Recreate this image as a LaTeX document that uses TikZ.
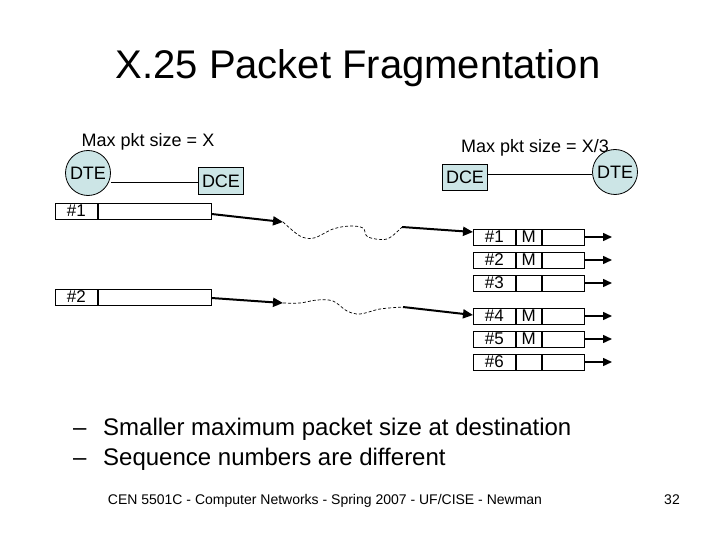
\documentclass[tikz,border=0pt]{standalone}
\usepackage{fontspec}
\setmainfont{Liberation Sans}
\usetikzlibrary{arrows.meta}
\definecolor{devfill}{RGB}{204,229,230}
\tikzset{
  fs/.style={font=\fontsize{#1}{#1}\selectfont},
  dev/.style={draw, fill=devfill, line width=0.8pt, inner sep=0pt, fs=18},
  cell/.style={draw, fill=white, line width=0.8pt, minimum height=16pt, inner sep=0pt, anchor=west, fs=17},
  link/.style={line width=0.8pt},
  bigarrow/.style={line width=2pt, -{Triangle[length=10pt,width=9pt]}},
  outarrow/.style={line width=1.5pt, -{Triangle[length=9pt,width=8pt]}},
  wave/.style={dash pattern=on 3pt off 2pt, line width=0.7pt},
  txt/.style={anchor=base, inner sep=0pt}
}
\begin{document}
\begin{tikzpicture}[x=1pt, y=-1pt]
\useasboundingbox (0,0) rectangle (720,540);
% title
\node[txt, fs=40] (title) at (358,79) {X.25 Packet Fragmentation};
% devices left
\node[txt, fs=18] (mx1) at (148,147) {Max pkt size = X};
\node[dev, circle, minimum size=45pt] (dte1) at (88,173) {DTE};
\node[dev, rectangle, minimum width=45pt, minimum height=27pt] (dce1) at (221,181) {DCE};
\draw[link] (dte1.east |- 0,182) -- (dce1.west |- 0,182);
% devices right
\node[txt, fs=18] (mx2) at (535,153) {Max pkt size = X/3};
\node[dev, rectangle, minimum width=45pt, minimum height=26pt] (dce2) at (465,177) {DCE};
\node[dev, circle, minimum size=45pt] (dte2) at (615,172) {DTE};
\draw[link] (dce2.east |- 0,174) -- (dte2.west |- 0,174);
% left packets
\node[cell, minimum width=42pt] (l1) at (55,211) {\#1};
\node[cell, minimum width=113pt] (d1) at (l1.east) {};
\node[cell, minimum width=42pt] (l2) at (55,297) {\#2};
\node[cell, minimum width=113pt] (d2) at (l2.east) {};
% right packets
\foreach \n/\y/\m in {1/237/M, 2/260/M, 3/283/, 4/316/M, 5/339/M, 6/362/} {
  \node[cell, minimum width=42pt] (r\n) at (473,\y) {\#\n};
  \node[cell, minimum width=25pt] (m\n) at (r\n.east) {\m};
  \node[cell, minimum width=42pt] (e\n) at (m\n.east) {};
  \coordinate (o\n) at (612,\y);
  \draw[outarrow] (e\n.east) -- (o\n);
}
% path of fragment 1
\coordinate (a1) at (283,222);
\coordinate (b1) at (402,227);
\draw[bigarrow] ([yshift=-3pt]d1.east) -- (a1);
\draw[wave] plot[smooth, tension=0.55] coordinates {(a1) (300,236) (314,238) (333,229) (350,226) (363,228) (368,237) (387,239) (b1)};
\draw[bigarrow] (b1) -- ([yshift=5pt]r1.west);
% path of fragment 2
\coordinate (a2) at (283,303);
\coordinate (b2) at (403,307);
\draw[bigarrow] ([yshift=-1pt]d2.east) -- (a2);
\draw[wave] plot[smooth, tension=0.55] coordinates {(a2) (300,303) (317,300) (333,301) (347,311) (360,314) (380,309) (b2)};
\draw[bigarrow] (b2) -- ([yshift=1pt]r4.west);
% bullets
\node[txt, fs=24, anchor=base west] (d1b) at (73,435) {–};
\node[txt, fs=24, anchor=base west] (t1b) at (103,435) {Smaller maximum packet size at destination};
\node[txt, fs=24, anchor=base west] (d2b) at (73,465) {–};
\node[txt, fs=24, anchor=base west] (t2b) at (103,465) {Sequence numbers are different};
% footer
\node[txt, fs=14] (foot) at (325,504) {CEN 5501C - Computer Networks - Spring 2007 - UF/CISE - Newman};
\node[txt, fs=14] (pg) at (672,504) {32};
\end{tikzpicture}
\end{document}
